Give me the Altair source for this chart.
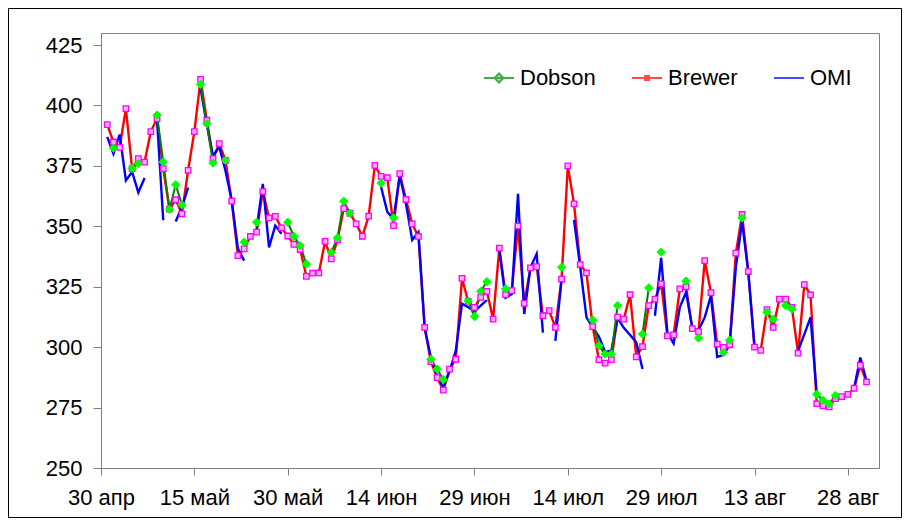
import altair as alt
import pandas as pd

# ---------------- data ----------------
MONTHS_RU = ["янв", "фев", "мар", "апр", "май", "июн", "июл", "авг", "сен", "окт", "ноя", "дек"]
START_DATE = "2010-05-01"
END_DATE = "2010-08-31"
SERIES = ["Dobson", "Brewer", "OMI"]

# Brewer, daily 1 May .. 31 Aug
brewer_may = [392.1, 384.9, 382.7, 398.7, 373.9, 378.0, 376.6, 389.2, 394.6, 373.9, 357.1, 361.0, 355.2,
              373.2, 389.2, 410.8, 393.9, 378.0, 384.2, 377.3, 360.4, 337.9, 340.7, 345.8, 347.6, 364.4,
              353.5, 354.1, 349.4, 346.0, 342.5]
brewer_jun = [340.4, 329.3, 330.6, 330.7, 343.8, 336.5, 344.4, 357.3, 355.4, 351.0, 345.9, 354.2, 375.2,
              370.7, 370.1, 350.3, 371.8, 361.1, 351.0, 345.8, 308.2, 294.0, 287.4, 282.2, 290.9, 295.0,
              328.5, 318.9, 316.5, 320.6]
brewer_jul = [323.1, 311.6, 341.0, 321.7, 323.4, 350.1, 318.1, 332.8, 333.3, 313.0, 315.1, 308.2, 328.2,
              375.0, 359.3, 334.2, 330.7, 308.5, 294.8, 293.4, 294.8, 312.4, 311.6, 321.7, 296.0, 300.2,
              317.2, 319.9, 326.2, 304.7, 305.1]
brewer_aug = [324.1, 325.0, 307.7, 306.4, 335.8, 322.6, 301.3, 299.9, 301.0, 338.9, 354.9, 331.3, 300.0,
              298.7, 315.5, 308.2, 319.9, 319.9, 316.5, 297.5, 325.9, 321.6, 276.6, 275.7, 275.3, 278.7,
              279.5, 280.5, 283.0, 292.5, 285.6]

N = None
dobson_may = [N, 382.4, N, N, 374.0, 376.0, N, N, 396.0, 376.6, 357.0, 367.2, 358.9, N, N, 408.8, 392.5,
              376.2, N, 377.3, N, N, 343.4, N, 351.7, N, N, N, N, 351.7, 345.8]
dobson_jun = [342.0, 334.4, N, N, N, 339.2, 345.2, 360.4, 355.4, N, N, N, N, 367.9, N, 353.5, N, N, N, N,
              N, 295.0, 290.9, 286.6, N, N, N, 319.0, 312.7, 323.1]
dobson_jul = [327.1, N, N, 324.1, N, N, N, N, N, N, N, N, 333.1, N, N, N, N, 311.2, 300.6, 297.1, 297.1,
              317.2, N, N, N, 305.4, 324.5, N, 339.3, N, N]
dobson_aug = [N, 327.3, N, 303.8, N, N, N, 297.8, 302.9, N, 353.5, N, N, N, 314.4, 311.6, N, 317.2, 315.8,
              N, N, N, 280.5, 278.0, 276.5, 280.0, N, N, N, N, N]

omi_may = [387.0, 380.0, 388.0, 369.0, 372.5, 364.0, 370.0, N, 394.0, 352.5, N, 352.0, 358.0, 366.0, N,
           407.0, 392.0, 379.0, 383.0, 373.0, 360.7, 340.8, 335.8, N, 349.0, 367.6, 341.3, 350.3, 346.9, N, N]
omi_jun = [N, N, N, N, N, N, N, N, N, N, N, N, N, 366.3, 356.0, 353.0, 371.0, 359.3, 344.4, 347.6, 308.0,
           295.7, 288.0, 283.3, 290.0, 298.5, 318.0, 316.5, 314.8, 317.2]
omi_jul = [319.5, N, 340.0, 320.4, 322.0, 363.5, 313.7, 333.0, 338.6, 306.0, N, 302.6, 328.0, N, 352.7,
           333.0, 312.3, 308.2, 304.4, 298.0, 298.5, 312.0, 308.0, 305.0, 302.0, 291.0, N, 313.0, 337.0,
           306.0, 301.5]
omi_aug = [316.5, 322.7, 308.0, 307.0, 312.3, 321.3, 296.0, 296.8, 301.0, 333.0, 352.0, 331.0, 300.0, N, N,
           N, N, N, N, 298.5, 305.3, 312.3, 280.5, N, N, N, N, N, 283.0, 295.7, 286.0]

Y_TICKS = [250, 275, 300, 325, 350, 375, 400, 425]
Y_DOMAIN = [250, 430]
X_TICKS = [(4, 30), (5, 15), (5, 30), (6, 14), (6, 29), (7, 14), (7, 29), (8, 13), (8, 28)]
X_DOMAIN = [(4, 30), (9, 2)]
YEAR = 2010

# ---------------- build tables ----------------
dates = pd.date_range(START_DATE, END_DATE, freq="D")


def table(name, values):
    df = pd.DataFrame({"date": dates, "value": pd.array(values, dtype="Float64")})
    df["seg"] = df["value"].isna().cumsum()
    df = df.dropna().copy()
    df["value"] = df["value"].astype(float)
    df["series"] = name
    return df


df_b = table("Brewer", brewer_may + brewer_jun + brewer_jul + brewer_aug)
df_d = table("Dobson", dobson_may + dobson_jun + dobson_jul + dobson_aug)
df_o = table("OMI", omi_may + omi_jun + omi_jul + omi_aug)

FONT = "Liberation Sans"
AX_COL = "#808080"

month_arr = "[" + ",".join("'%s'" % m for m in MONTHS_RU) + "]"
label_expr = "date(datum.value) + ' ' + " + month_arr + "[month(datum.value)]"

x_enc = alt.X(
    "date:T",
    scale=alt.Scale(domain=[alt.DateTime(year=YEAR, month=m, date=d) for m, d in X_DOMAIN]),
    axis=alt.Axis(
        values=[alt.DateTime(year=YEAR, month=m, date=d) for m, d in X_TICKS],
        labelExpr=label_expr, title=None, grid=False, labelAngle=0,
        labelFont=FONT, labelFontSize=22, labelColor="black",
        tickSize=7, tickColor=AX_COL, domainColor=AX_COL, labelPadding=12,
        labelOverlap=False, labelFlush=False,
    ),
)
y_enc = alt.Y(
    "value:Q",
    scale=alt.Scale(domain=Y_DOMAIN, nice=False, zero=False),
    axis=alt.Axis(
        values=Y_TICKS, title=None, grid=False,
        labelFont=FONT, labelFontSize=22, labelColor="black",
        tickSize=8, tickColor=AX_COL, domainColor=AX_COL, labelPadding=11,
    ),
)

line_b = alt.Chart(df_b).mark_line(color="#ff0000", strokeWidth=2.4).encode(x=x_enc, y=y_enc, detail="seg:N")
line_o = alt.Chart(df_o).mark_line(color="#0000ff", strokeWidth=2.4).encode(x=x_enc, y=y_enc, detail="seg:N")
line_d = alt.Chart(df_d).mark_line(color="#008000", strokeWidth=2).encode(x=x_enc, y=y_enc, detail="seg:N")
pts_b = alt.Chart(df_b).mark_point(shape="square", size=30, filled=True, fill="#ffb0ff",
                                    stroke="#ff00ff", strokeWidth=1.3, opacity=1).encode(x=x_enc, y=y_enc)
pts_d = alt.Chart(df_d).mark_point(shape="diamond", size=70, filled=True, fill="#00ff00",
                                    stroke="#00ff00", strokeWidth=1, opacity=1).encode(x=x_enc, y=y_enc)

# legend-only layer (no marks drawn)
legend_df = pd.DataFrame({"series": SERIES, "date": [dates[0]] * 3, "value": [300.0] * 3})
shape_paths = [
    "M-1,0H1M0,-0.3L0.3,0L0,0.3L-0.3,0Z",
    "M-1,0H1M-0.13,-0.13H0.13V0.13H-0.13Z",
    "M-1,0H1",
]
leg = alt.Legend(
    title=None, orient="none", legendX=382, legendY=29, direction="horizontal",
    labelFont=FONT, labelFontSize=22, labelColor="black", symbolSize=900,
    symbolStrokeWidth=2, labelOffset=5, columnPadding=32, padding=0,
)
legend_layer = alt.Chart(legend_df).transform_filter("false").mark_point(filled=True).encode(
    x=x_enc, y=y_enc,
    fill=alt.Fill("series:N", scale=alt.Scale(domain=SERIES, range=["#00ff00", "#ffb0ff", "#0000ff"]), legend=leg),
    stroke=alt.Stroke("series:N", scale=alt.Scale(domain=SERIES, range=["#008000", "#ff0000", "#0000ff"]), legend=leg),
    shape=alt.Shape("series:N", scale=alt.Scale(domain=SERIES, range=shape_paths), legend=leg),
)

frame = alt.Chart(pd.DataFrame({"a": [0]})).mark_rect(
    fill=None, stroke="black", strokeWidth=1, clip=False
).encode(x=alt.value(-92.5), x2=alt.value(800.5), y=alt.value(-24.5), y2=alt.value(484.5))

chart = alt.layer(line_b, line_o, line_d, pts_b, pts_d, legend_layer, frame).properties(
    width=778, height=435,
    autosize=alt.AutoSizeParams(type="none"),
    padding={"left": 93, "top": 25, "right": 23, "bottom": 50},
    background="white",
).configure_view(stroke=AX_COL, strokeWidth=1)

chart.save("out.html", embed_options={"renderer": "svg", "actions": False})
